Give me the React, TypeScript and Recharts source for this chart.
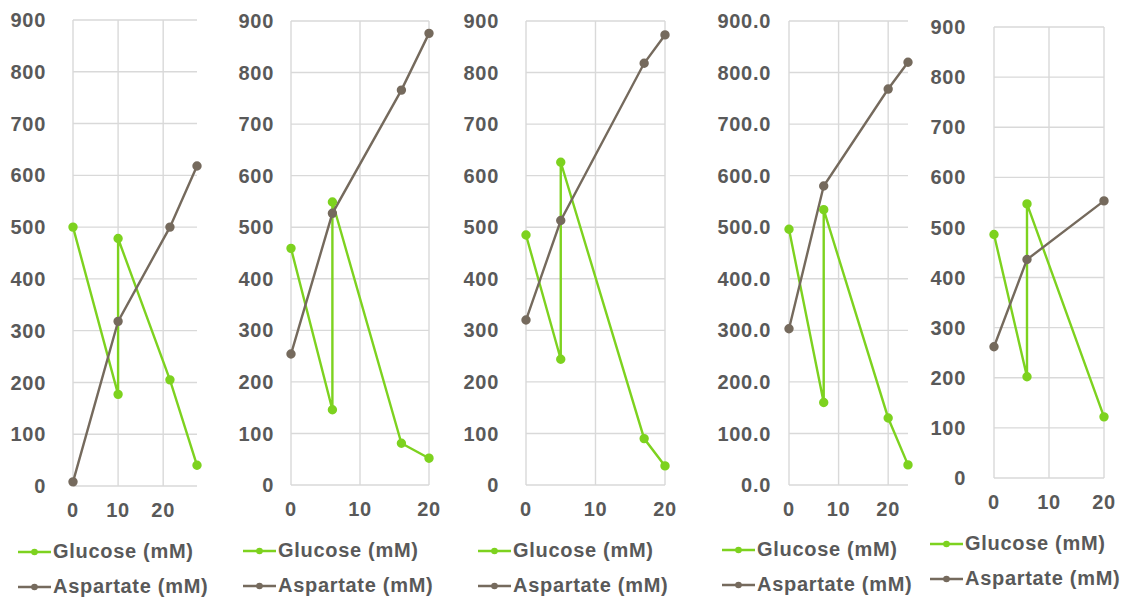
import { LineChart, Line, XAxis, YAxis, Legend, ReferenceLine } from "recharts";
import type { CSSProperties } from "react";

// Glucose / aspartate time courses, one small multiple per culture
const p1GlucoseTime = [0, 10, 10, 21.5, 27.5];
const p1Glucose = [500, 177, 478, 205, 40];
const p1AspartateTime = [0, 10, 21.5, 27.5];
const p1Aspartate = [8, 318, 500, 618];

const p2GlucoseTime = [0, 6, 6, 16, 20];
const p2Glucose = [459, 146, 549, 81, 52];
const p2AspartateTime = [0, 6, 16, 20];
const p2Aspartate = [254, 527, 766, 876];

const p3GlucoseTime = [0, 5, 5, 17, 20];
const p3Glucose = [485, 244, 626, 90, 37];
const p3AspartateTime = [0, 5, 17, 20];
const p3Aspartate = [320, 513, 818, 873];

const p4GlucoseTime = [0, 7, 7, 20, 24];
const p4Glucose = [496, 160, 534, 130, 39];
const p4AspartateTime = [0, 7, 20, 24];
const p4Aspartate = [303, 580, 768, 820];

const p5GlucoseTime = [0, 6, 6, 20];
const p5Glucose = [486, 202, 547, 122];
const p5AspartateTime = [0, 6, 20];
const p5Aspartate = [262, 436, 553];

const xTicks = [0, 10, 20];
const yTicks = [0, 100, 200, 300, 400, 500, 600, 700, 800, 900];
const seriesNames = ["Glucose (mM)", "Aspartate (mM)"];

const GREEN = "#7dd21f";
const BROWN = "#756a5d";
const INK = "#595959";
const GRID = "#d9d9d9";
const Y_AXIS_W = 80;
const seriesColors = [GREEN, BROWN];

const zip = (t: number[], v: number[]) => t.map((x, i) => ({ t: x, v: v[i] }));

interface Layout {
  plotLeft: number;
  plotRight: number;
  plotTop: number;
  plotBottom: number;
  yGap: number;
  legendX: number;
  legendY: number;
}

interface PanelProps {
  layout: Layout;
  glucose: { t: number; v: number }[];
  aspartate: { t: number; v: number }[];
  xMax: number;
  fmt?: (v: number) => string;
}

const tickStyle = { fill: INK, fontSize: 20, fontWeight: 700, letterSpacing: 0.7 };

// legend keeps the series order (Recharts sorts it by name otherwise)
function LegendBox() {
  return (
    <div>
      {seriesNames.map((name, i) => (
        <div key={name} style={{ display: "flex", alignItems: "center", height: 35 }}>
          <svg width={33} height={10} style={{ marginRight: 2 }}>
            <line x1={0} y1={5} x2={33} y2={5} stroke={seriesColors[i]} strokeWidth={2.5} />
            <circle cx={16.5} cy={5} r={3.3} fill={seriesColors[i]} />
          </svg>
          <span style={legendText}>{name}</span>
        </div>
      ))}
    </div>
  );
}

function Panel({ layout, glucose, aspartate, xMax, fmt }: PanelProps) {
  const chartLeft = layout.plotLeft - Y_AXIS_W;
  const width = layout.plotRight - chartLeft + 12;
  return (
    <div style={{ position: "absolute", left: chartLeft, top: 0 }}>
      <LineChart
        width={width}
        height={599}
        margin={{ top: layout.plotTop, right: 12, left: 0, bottom: 599 - layout.plotBottom - 30 }}
      >
        {/* grid rules only at the labelled values, no closing border on the right */}
        {yTicks.map((v) => (
          <ReferenceLine key={`h${v}`} y={v} stroke={GRID} strokeWidth={1.4} />
        ))}
        {xTicks.map((t) => (
          <ReferenceLine key={`v${t}`} x={t} stroke={GRID} strokeWidth={1.4} />
        ))}
        <XAxis
          type="number"
          dataKey="t"
          domain={[0, xMax]}
          ticks={xTicks}
          height={30}
          tickLine={false}
          axisLine={false}
          tickMargin={11}
          tick={tickStyle}
        />
        <YAxis
          type="number"
          domain={[0, 900]}
          ticks={yTicks}
          width={Y_AXIS_W}
          tickLine={false}
          axisLine={false}
          tickMargin={layout.yGap - 6}
          tick={tickStyle}
          tickFormatter={fmt}
        />
        <Line
          data={glucose}
          dataKey="v"
          name={seriesNames[0]}
          stroke={GREEN}
          strokeWidth={2.4}
          dot={{ r: 3.5, fill: GREEN, stroke: GREEN }}
          isAnimationActive={false}
        />
        <Line
          data={aspartate}
          dataKey="v"
          name={seriesNames[1]}
          stroke={BROWN}
          strokeWidth={2.4}
          dot={{ r: 3.5, fill: BROWN, stroke: BROWN }}
          isAnimationActive={false}
        />
        <Legend
          layout="horizontal"
          verticalAlign="middle"
          align="center"
          content={<LegendBox />}
          wrapperStyle={{ left: layout.legendX - chartLeft, top: layout.legendY - 17, width: 220 }}
        />
      </LineChart>
    </div>
  );
}

const layouts: Layout[] = [
  { plotLeft: 73, plotRight: 197, plotTop: 20, plotBottom: 486, yGap: 27, legendX: 18, legendY: 551 },
  { plotLeft: 291, plotRight: 429, plotTop: 21, plotBottom: 485, yGap: 17, legendX: 243, legendY: 550 },
  { plotLeft: 526, plotRight: 665, plotTop: 21, plotBottom: 485, yGap: 27, legendX: 478, legendY: 550 },
  { plotLeft: 789, plotRight: 908, plotTop: 21, plotBottom: 485, yGap: 18, legendX: 722, legendY: 549 },
  { plotLeft: 994, plotRight: 1104, plotTop: 27, plotBottom: 478, yGap: 28, legendX: 930, legendY: 543 },
];

export default function App() {
  return (
    <div style={page}>
      <Panel layout={layouts[0]} glucose={zip(p1GlucoseTime, p1Glucose)} aspartate={zip(p1AspartateTime, p1Aspartate)} xMax={27.5} />
      <Panel layout={layouts[1]} glucose={zip(p2GlucoseTime, p2Glucose)} aspartate={zip(p2AspartateTime, p2Aspartate)} xMax={20} />
      <Panel layout={layouts[2]} glucose={zip(p3GlucoseTime, p3Glucose)} aspartate={zip(p3AspartateTime, p3Aspartate)} xMax={20} />
      <Panel
        layout={layouts[3]}
        glucose={zip(p4GlucoseTime, p4Glucose)}
        aspartate={zip(p4AspartateTime, p4Aspartate)}
        xMax={24}
        fmt={(v) => v.toFixed(1)}
      />
      <Panel layout={layouts[4]} glucose={zip(p5GlucoseTime, p5Glucose)} aspartate={zip(p5AspartateTime, p5Aspartate)} xMax={20} />
    </div>
  );
}

const page: CSSProperties = {
  position: "absolute",
  left: 0,
  top: 0,
  width: 1135,
  height: 599,
  background: "#fff",
  fontFamily: "'Liberation Sans', Arial, sans-serif",
  overflow: "hidden",
};

const legendText: CSSProperties = {
  color: INK,
  fontSize: 20,
  fontWeight: 700,
  letterSpacing: 0.7,
  whiteSpace: "nowrap",
};
